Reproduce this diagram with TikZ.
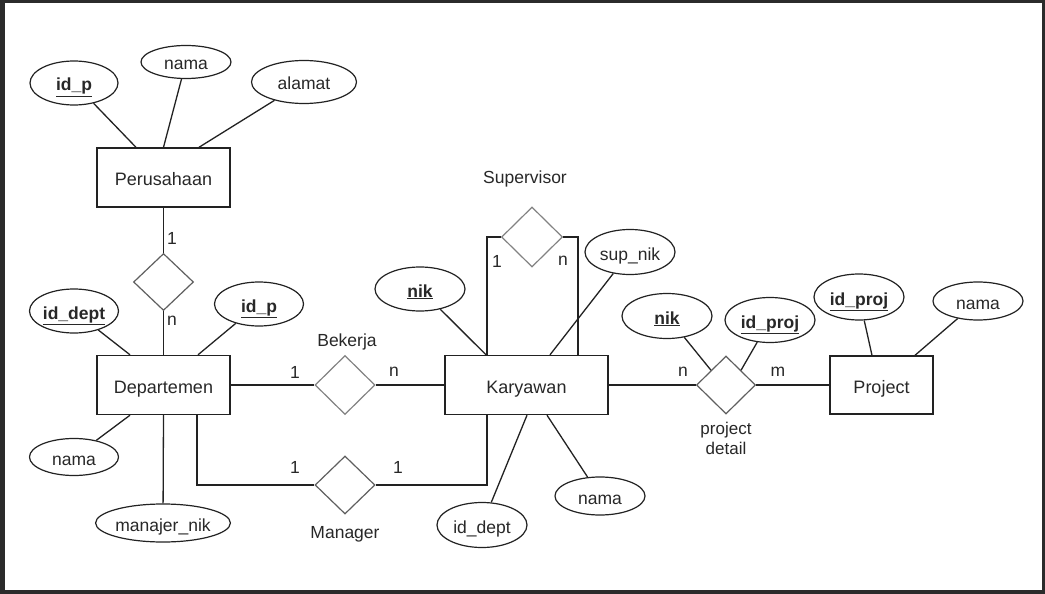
\documentclass[tikz,border=0pt]{standalone}
\usepackage{fontspec}
\setmainfont{Liberation Sans}
\usepackage{xcolor}
\usepackage{tikz}
\usetikzlibrary{positioning,calc,shapes.geometric}
\definecolor{erink}{RGB}{34,34,34}
\definecolor{ertext}{RGB}{40,40,40}
\definecolor{erdiam}{RGB}{95,95,95}
\definecolor{erdiamlt}{RGB}{130,130,130}
\definecolor{erframe}{RGB}{43,43,43}

\begin{document}
\begin{tikzpicture}[x=1pt, y=-1pt,
      every node/.style={text=ertext, font=\fontsize{17.5}{20}\selectfont},
      entity/.style={rectangle, draw=erink, line width=1.4pt, minimum width=133pt, minimum height=59pt, inner sep=0pt,
        font=\fontsize{18}{20}\selectfont, text height=16pt, text depth=0pt},
      attr/.style={ellipse, draw=erink, line width=1.2pt, minimum width=90pt, minimum height=44pt, inner sep=0pt,
        text height=16pt, text depth=0pt},
      relation/.style={diamond, draw=erdiam, line width=1.2pt, minimum width=60pt, minimum height=59pt, inner sep=0pt},
      link/.style={draw=erink, line width=1.3pt},
      card/.style={inner sep=0pt},
      keyattr/.style={attr}
    ]
    \fill[erframe] (0,0) rectangle (1045,594);
    \fill[white] (5,3) rectangle (1042,590);
    \useasboundingbox (0,0) rectangle (1045,594);

    % entities
    \node[entity] (perus) at (163.5,177.5) {Perusahaan};
    \node[entity] (dept) at (163.5,385) {Departemen};
    \node[entity, minimum width=163pt] (kar) at (526.5,385) {Karyawan};
    \node[entity, minimum width=103pt, minimum height=58pt] (proj) at (881.5,385) {Project};

    % relations
    \node[relation, minimum height=57pt] (punya) at (163.5,282) {};
    \node[relation, draw=erdiamlt] (bek) at (345,385) {};
    \node[relation, minimum height=58pt] (mgr) at (345,485) {};
    \node[relation, draw=erdiamlt, minimum width=61pt, minimum height=60pt] (sup) at (532,237) {};
    \node[relation, minimum width=59pt, minimum height=58pt] (pd) at (726,385) {};

    \node (bekname) at (347,342) {Bekerja};
    \node (mgrname) at (345,534) {Manager};
    \node (supname) at (525,179) {Supervisor};
    \node[align=center, font=\fontsize{17}{20}\selectfont] (pdname) at (726,438) {project\\detail};

    % attributes
    \node[keyattr, minimum width=88pt] (idp) at (74,83) {\underline{\textbf{id\_p}}};
    \node[attr, minimum height=33pt] (nama1) at (186,62) {nama};
    \node[attr, minimum width=105pt, minimum height=43pt] (alamat) at (304,82) {alamat};

    \node[keyattr, minimum width=89pt] (iddept) at (74,311) {\underline{\textbf{id\_dept}}};
    \node[keyattr, minimum width=89pt] (idpdept) at (259,304) {\underline{\textbf{id\_p}}};
    \node[attr, minimum width=89pt, minimum height=37pt] (nama2) at (74,457) {nama};
    \node[attr, minimum width=120pt, minimum height=38pt] (manajer) at (163,523) {manajer\_nik};

    \node[keyattr] (nik) at (420,289) {\underline{\textbf{nik}}};
    \node[attr, minimum height=45pt] (supnik) at (630,252) {sup\_nik};
    \node[attr, minimum height=45pt] (iddeptkar) at (482,525) {id\_dept};
    \node[attr, minimum height=38pt] (nama3) at (600,496) {nama};

    \node[keyattr, minimum height=45pt] (nikpd) at (667,316) {\underline{\textbf{nik}}};
    \node[keyattr, minimum height=45pt] (idprojpd) at (770,320) {\underline{\textbf{id\_proj}}};
    \node[keyattr, minimum height=46pt] (idproj) at (859,297) {\underline{\textbf{id\_proj}}};
    \node[attr, minimum height=38pt] (nama4) at (978,301) {nama};

    % connectors
    \draw[link] (idp) -- ([xshift=-27.5pt]perus.north);
    \draw[link] (nama1) -- (perus.north);
    \draw[link] (alamat) -- ([xshift=35.5pt]perus.north);
    \draw[link] (perus) -- (punya);
    \draw[link] (punya) -- (dept);

    \draw[link] (iddept) -- ([xshift=-33.5pt]dept.north);
    \draw[link] (idpdept) -- ([xshift=34.5pt]dept.north);
    \draw[link] (nama2) -- ([xshift=-33.5pt]dept.south);
    \draw[link] (manajer) -- (dept.south);

    \draw[link] (dept) -- (bek);
    \draw[link] (bek) -- (kar);
    \draw[link] ([xshift=33.5pt]dept.south) |- (mgr.west);
    \draw[link] (mgr.east) -| ([xshift=-39.5pt]kar.south);

    \draw[link] ([xshift=-39.5pt]kar.north) |- (sup.west);
    \draw[link] (sup.east) -| ([xshift=51.5pt]kar.north);
    \draw[link] (nik) -- ([xshift=-40.5pt]kar.north);
    \draw[link] (supnik) -- ([xshift=23.5pt]kar.north);
    \draw[link] (iddeptkar) -- ([xshift=0.5pt]kar.south);
    \draw[link] (nama3) -- ([xshift=20.5pt]kar.south);

    \draw[link] (kar) -- (pd);
    \draw[link] (pd) -- (proj);
    \draw[link] (nikpd) -- (pd.north west);
    \draw[link] (idprojpd) -- (pd.north east);
    \draw[link] (idproj) -- ([xshift=-9.5pt]proj.north);
    \draw[link] (nama4) -- ([xshift=33.5pt]proj.north);

    % cardinalities
    \node[card] (c1) at (172,238) {1};
    \node[card] (c2) at (172,321) {n};
    \node[card] (c3) at (295,372) {1};
    \node[card] (c4) at (394,372) {n};
    \node[card] (c5) at (295,467) {1};
    \node[card] (c6) at (398,467) {1};
    \node[card] (c7) at (497,261) {1};
    \node[card] (c8) at (563,261) {n};
    \node[card] (c9) at (683,372) {n};
    \node[card] (c10) at (778,372) {m};
  \end{tikzpicture}
\end{document}
